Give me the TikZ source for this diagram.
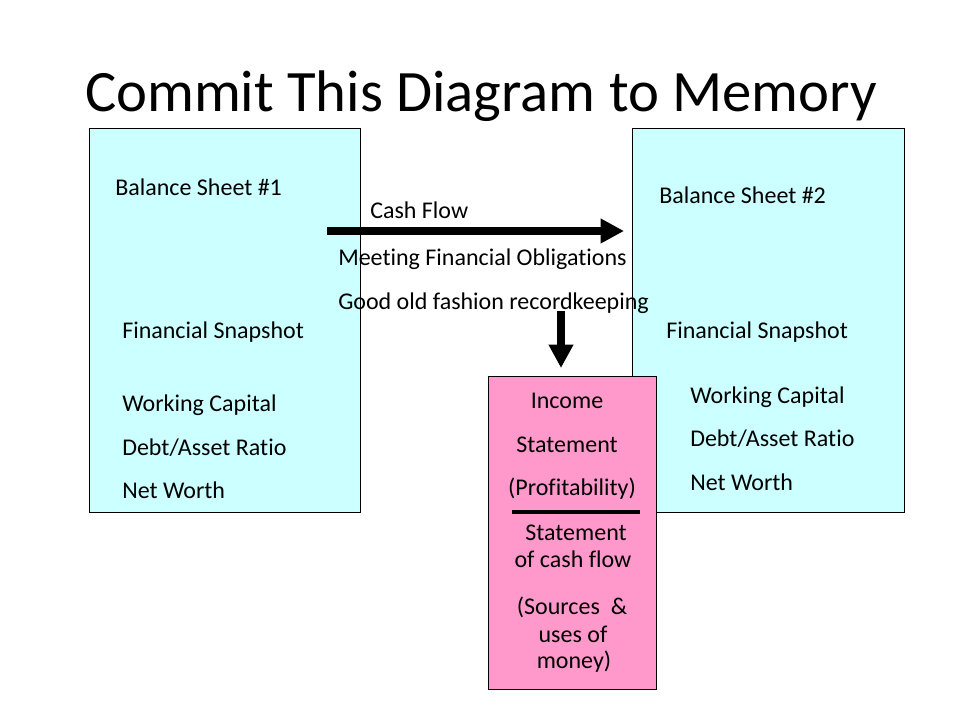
\documentclass[tikz,border=0pt]{standalone}
\usepackage{fontspec}
\setmainfont{Carlito}[Ligatures={NoCommon,NoRare}]
\usetikzlibrary{arrows.meta}
\definecolor{sheetblue}{HTML}{CCFFFF}
\definecolor{stmtpink}{HTML}{FF99CC}
\begin{document}
\begin{tikzpicture}[x=0.75pt,y=-0.75pt,
  txt/.style={inner sep=0pt, anchor=base west, font=\fontsize{18}{21.6}\selectfont},
  ctxt/.style={txt, anchor=base},
  box/.style={draw=black, line width=0.8pt, inner sep=0pt, anchor=north west},
  bigarrow/.style={line width=6pt, -{Triangle[length=17.5pt,width=17.5pt]}}]
\useasboundingbox[fill=white] (0,0) rectangle (960,720);
\node[anchor=base, inner sep=0pt, font=\fontsize{44}{50}\selectfont] (title) at (481,112) {Commit This Diagram to Memory};
% boxes
\node[box, fill=sheetblue, minimum width=203.25pt, minimum height=288pt] (bs1) at (89,128) {};
\node[box, fill=sheetblue, minimum width=204pt, minimum height=288pt] (bs2) at (632,128) {};
\node[box, fill=stmtpink, minimum width=126pt, minimum height=234.75pt] (inc) at (488,376) {};
% left box texts
\node[txt] (l1) at (115,196) {Balance Sheet \#1};
\node[txt] (l2) at (122,338) {Financial Snapshot};
\node[txt] (l3) at (122,411) {Working Capital};
\node[txt] (l4) at (122,455) {Debt/Asset Ratio};
\node[txt] (l5) at (122,498) {Net Worth};
% right box texts
\node[txt] (r1) at (659,204) {Balance Sheet \#2};
\node[txt] (r2) at (666,338) {Financial Snapshot};
\node[txt] (r3) at (690,403) {Working Capital};
\node[txt] (r4) at (690,446) {Debt/Asset Ratio};
\node[txt] (r5) at (690,490) {Net Worth};
% middle
\node[txt] (cf) at (370,219) {Cash Flow};
\node[txt] (mfo) at (338,266) {Meeting Financial Obligations};
\node[txt] (gof) at (338,310) {Good old fashion recordkeeping};
\coordinate (cfs) at (327,231);
\coordinate (cfe) at (624,231);
\draw[bigarrow] (cfs) -- (cfe);
\coordinate (ds) at (561,311);
\coordinate (de) at (561,368);
\draw[bigarrow] (ds) -- (de);
% pink box texts
\node[ctxt] (p1) at (567,408) {Income};
\node[ctxt] (p2) at (567,452) {Statement};
\node[ctxt] (p3) at (572,495) {(Profitability)};
\coordinate (d1) at (512,512);
\coordinate (d2) at (640,512);
\draw[line width=3pt] (d1) -- (d2);
\node[ctxt] (p4) at (576,540) {Statement};
\node[ctxt] (p5) at (573,567) {of cash flow};
\node[ctxt] (p6) at (572,614) {(Sources~ \&};
\node[ctxt] (p7) at (573,642) {uses of};
\node[ctxt] (p8) at (574,668) {money)};
\end{tikzpicture}
\end{document}
